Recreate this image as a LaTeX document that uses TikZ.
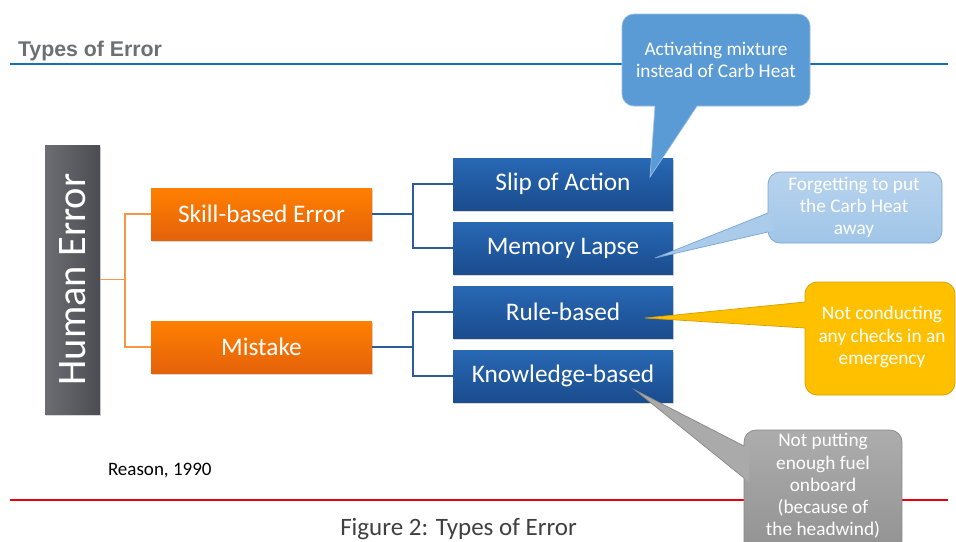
\documentclass[tikz,border=0pt]{standalone}
\usepackage{fontspec}
\setmainfont{Carlito}
\newfontfamily\titlefont{Liberation Sans}
\usetikzlibrary{shadows,calc}
\definecolor{titlegray}{RGB}{110,111,115}
\definecolor{topblue}{RGB}{26,110,190}
\definecolor{botred}{RGB}{232,0,12}
\definecolor{boxblueT}{RGB}{40,104,180}
\definecolor{boxblueB}{RGB}{26,76,142}
\definecolor{boxorT}{RGB}{255,128,0}
\definecolor{boxorB}{RGB}{228,98,10}
\definecolor{heL}{RGB}{108,109,114}
\definecolor{heR}{RGB}{76,77,82}
\definecolor{lineorange}{RGB}{247,150,70}
\definecolor{lineblue}{RGB}{44,92,158}
\definecolor{cA}{RGB}{91,155,213}
\definecolor{cAd}{RGB}{150,190,230}
\definecolor{cB}{RGB}{160,197,232}
\definecolor{cBd}{RGB}{120,165,215}
\definecolor{cC}{RGB}{255,192,0}
\definecolor{cCd}{RGB}{215,158,0}
\definecolor{cD}{RGB}{158,158,158}
\definecolor{cDd}{RGB}{135,135,135}
\begin{document}
\begin{tikzpicture}[x=1pt,y=-1pt,
  every node/.style={inner sep=0pt, outer sep=0pt},
  boxshadow/.style={drop shadow={shadow xshift=1pt, shadow yshift=-1.5pt, opacity=0.3}},
  bluebox/.style={top color=boxblueT, bottom color=boxblueB, minimum width=220, minimum height=52,
    text=white, font=\fontsize{25.3}{29}\selectfont, boxshadow},
  orangebox/.style={top color=boxorT, bottom color=boxorB, minimum width=221, minimum height=52,
    text=white, font=\fontsize{25.3}{29}\selectfont, boxshadow},
  hebox/.style={left color=heL, right color=heR, minimum width=55, minimum height=269,
    text=white, font=\fontsize{40.5}{44}\selectfont, boxshadow},
  oline/.style={draw=lineorange, line width=1.3pt},
  bline/.style={draw=lineblue, line width=1.3pt},
  calloutbox/.style={rounded corners=12pt, line width=0.7pt},
  callouttext/.style={align=center, text=white, font=\fontsize{19.3}{22.3}\selectfont},
]
\fill[white] (0,0) rectangle (956,541);
\useasboundingbox (0,0) rectangle (956,541);

% header / footer lines
\node[anchor=base west, font=\titlefont\bfseries\fontsize{21.3}{25}\selectfont, text=titlegray] (title) at (18,56) {Types of Error};
\draw[topblue, line width=1.4pt] (10,64) -- (948,64);
\draw[botred, line width=1.4pt] (10,500) -- (948,500);

% main boxes
\node[hebox] (he) at (72.5,279.5) {\rotatebox{90}{Human Error}};
\node[orangebox] (sk) at (261.5,214) {Skill-based Error};
\node[orangebox] (mi) at (261.5,347) {Mistake};
\node[bluebox] (sa) at (563,184) {Slip of Action};
\node[bluebox] (ml) at (563,248) {Memory Lapse};
\node[bluebox] (rb) at (563,312) {Rule-based};
\node[bluebox] (kb) at (563,376) {Knowledge-based};

% connectors
\draw[oline] (he.east) -- ++(25,0) coordinate (oj);
\draw[oline] (sk.west) -| (oj) |- (mi.west);
\draw[bline] (sk.east) -- ++(41,0) coordinate (bj1);
\draw[bline] (sa.west) -| (bj1) |- (ml.west);
\draw[bline] (mi.east) -- ++(41,0) coordinate (bj2);
\draw[bline] (rb.west) -| (bj2) |- (kb.west);

% callout 1
\node[calloutbox, fill=cA, draw=cAd, minimum width=188, minimum height=92] (c1) at (716,60) {};
\coordinate (t1) at (650,177);
\coordinate (b1a) at (655,106);
\coordinate (b1b) at (697,106);
\fill[cA] ($(t1)!1.08!(b1a)$) -- (t1) -- ($(t1)!1.08!(b1b)$) -- cycle;
\draw[cAd, line width=0.7pt] (b1a) -- (t1) -- (b1b);
\node[callouttext] (c1t) at (716,60) {Activating mixture\\instead of Carb Heat};

% callout 2
\node[calloutbox, top color=cB!75!white, bottom color=cB, draw=cBd, minimum width=174, minimum height=71] (c2) at (855,207.5) {};
\coordinate (t2) at (655,258);
\coordinate (b2a) at (768,213);
\coordinate (b2b) at (768,232);
\fill[cB!90!white] ($(t2)!1.05!(b2a)$) -- (t2) -- ($(t2)!1.05!(b2b)$) -- cycle;
\draw[cBd, line width=0.7pt] (b2a) -- (t2) -- (b2b);
\node[callouttext] (c2t) at (854,207.5) {Forgetting to put\\the Carb Heat\\away};

% callout 3
\node[calloutbox, fill=cC, draw=cCd, minimum width=150, minimum height=113] (c3) at (880,338.5) {};
\coordinate (t3) at (645,318);
\coordinate (b3a) at (805,302);
\coordinate (b3b) at (805,328);
\fill[cC] ($(t3)!1.04!(b3a)$) -- (t3) -- ($(t3)!1.04!(b3b)$) -- cycle;
\draw[cCd, line width=0.7pt] (b3a) -- (t3) -- (b3b);
\node[callouttext] (c3t) at (882,337) {Not conducting\\any checks in an\\emergency};

% callout 4
\node[calloutbox, top color=cD!85!white, bottom color=cD!90!black, draw=cDd, minimum width=158, minimum height=140] (c4) at (823,500) {};
\coordinate (t4) at (635,390);
\coordinate (b4a) at (744,446);
\coordinate (b4b) at (744,478);
\fill[cD!88!white] ($(t4)!1.05!(b4a)$) -- (t4) -- ($(t4)!1.05!(b4b)$) -- cycle;
\draw[cDd, line width=0.7pt] (b4a) -- (t4) -- (b4b);
\node[callouttext] (c4t) at (823,486) {Not putting\\enough fuel\\onboard\\(because of\\the headwind)};

% texts
\node[anchor=base west, font=\fontsize{19}{22}\selectfont] (reason) at (108,475) {Reason, 1990};
\node[anchor=base, font=\fontsize{25}{28}\selectfont, text=black!75] (caption) at (458.5,535.5) {Figure 2: Types of Error};
\end{tikzpicture}
\end{document}
